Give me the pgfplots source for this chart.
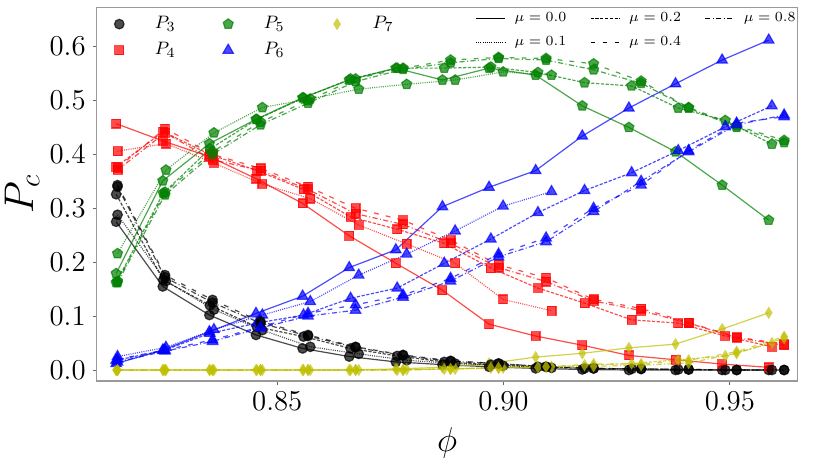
\documentclass[border=0pt]{standalone}
\usepackage{pgfplots}
\pgfplotsset{compat=1.18}
\usepackage{pgfplotstable}
\definecolor{cgreen}{rgb}{0,0.5,0}
\definecolor{cyel}{rgb}{0.75,0.75,0}
\pgfdeclareplotmark{thindiamond}{%
  \pgfpathmoveto{\pgfqpoint{0pt}{\pgfplotmarksize}}%
  \pgfpathlineto{\pgfqpoint{0.62\pgfplotmarksize}{0pt}}%
  \pgfpathlineto{\pgfqpoint{0pt}{-\pgfplotmarksize}}%
  \pgfpathlineto{\pgfqpoint{-0.62\pgfplotmarksize}{0pt}}%
  \pgfpathclose
  \pgfusepathqfill}
\pgfplotsset{
  sP3/.style={color=black, opacity=0.7, mark=*, mark size=2.4pt, mark options={solid,draw=none}},
  sP4/.style={color=red, opacity=0.7, mark=square*, mark size=2.2pt, mark options={solid,draw=none}},
  sP5/.style={color=cgreen, opacity=0.7, mark=pentagon*, mark size=2.6pt, mark options={solid,draw=none}},
  sP6/.style={color=blue, opacity=0.7, mark=triangle*, mark size=3pt, mark options={solid,draw=none}},
  sP7/.style={color=cyel, opacity=0.7, mark=thindiamond, mark size=3.1pt, mark options={solid,draw=none}},
  p7legend/.style={legend image code/.code={\path (-4pt,0pt) (14.5pt,0pt); \draw[##1,/tikz/only marks] plot coordinates {(-1pt,0pt)};}},
  m0/.style={solid},
  m1/.style={dash pattern=on 0.5pt off 0.6pt},
  m2/.style={dash pattern=on 1.6pt off 0.8pt},
  m4/.style={dash pattern=on 2.4pt off 3.6pt},
  m8/.style={dash pattern=on 2.6pt off 1.2pt on 0.5pt off 1.2pt},
}
% columns: phi P3 P4 P5 P6 P7
\pgfplotstableread{
phi P3 P4 P5 P6 P7
0.8144 0.275 0.457 0.179 0.012 0.000
0.8247 0.155 0.425 0.351 0.037 0.000
0.8350 0.102 0.396 0.420 0.071 0.000
0.8453 0.065 0.355 0.465 0.105 0.000
0.8556 0.040 0.309 0.505 0.137 0.000
0.8659 0.025 0.249 0.538 0.190 0.000
0.8762 0.015 0.198 0.560 0.223 0.002
0.8865 0.010 0.148 0.538 0.303 0.005
0.8968 0.006 0.085 0.560 0.339 0.012
0.9071 0.003 0.063 0.547 0.370 0.024
0.9174 0.001 0.046 0.490 0.434 0.031
0.9277 0.000 0.027 0.450 0.486 0.041
0.9380 0.000 0.019 0.405 0.531 0.048
0.9483 0.000 0.011 0.343 0.575 0.076
0.9586 0.000 0.005 0.278 0.612 0.106
}\tA
\pgfplotstableread{
phi P3 P4 P5 P6 P7
0.8147 0.288 0.406 0.216 0.025 0.000
0.8254 0.165 0.420 0.371 0.042 0.000
0.8360 0.112 0.384 0.440 0.075 0.000
0.8467 0.074 0.345 0.487 0.102 0.000
0.8573 0.043 0.318 0.503 0.127 0.000
0.8680 0.030 0.269 0.521 0.176 0.000
0.8786 0.018 0.234 0.530 0.215 0.001
0.8893 0.012 0.198 0.538 0.258 0.002
0.8999 0.008 0.131 0.553 0.304 0.004
0.9106 0.004 0.110 0.547 0.331 0.006
}\tB
\pgfplotstableread{
phi P3 P4 P5 P6 P7
0.8144 0.326 0.377 0.162 0.018 0.000
0.8248 0.167 0.442 0.328 0.036 0.000
0.8351 0.120 0.400 0.410 0.068 0.000
0.8455 0.080 0.370 0.465 0.087 0.000
0.8558 0.062 0.335 0.505 0.102 0.000
0.8662 0.040 0.284 0.540 0.133 0.000
0.8765 0.026 0.261 0.560 0.152 0.000
0.8869 0.015 0.235 0.560 0.198 0.002
0.8972 0.010 0.189 0.562 0.243 0.004
0.9076 0.006 0.152 0.552 0.292 0.005
0.9179 0.003 0.124 0.533 0.333 0.009
0.9283 0.002 0.093 0.527 0.366 0.012
0.9386 0.001 0.087 0.486 0.407 0.019
0.9490 0.000 0.063 0.463 0.451 0.026
0.9593 0.000 0.043 0.419 0.490 0.050
}\tC
\pgfplotstableread{
phi P3 P4 P5 P6 P7
0.8147 0.343 0.375 0.165 0.020 0.000
0.8252 0.176 0.448 0.330 0.037 0.000
0.8357 0.130 0.400 0.405 0.056 0.000
0.8463 0.090 0.374 0.460 0.080 0.000
0.8568 0.065 0.340 0.500 0.105 0.000
0.8673 0.043 0.300 0.540 0.121 0.000
0.8778 0.028 0.278 0.560 0.139 0.000
0.8883 0.017 0.241 0.575 0.170 0.002
0.8989 0.012 0.195 0.580 0.215 0.004
0.9094 0.006 0.171 0.578 0.245 0.006
0.9199 0.003 0.131 0.568 0.300 0.011
0.9304 0.002 0.114 0.536 0.343 0.011
0.9409 0.001 0.088 0.487 0.407 0.018
0.9515 0.000 0.061 0.453 0.458 0.034
0.9620 0.000 0.048 0.426 0.470 0.062
}\tD
\pgfplotstableread{
phi P3 P4 P5 P6 P7
0.8147 0.340 0.371 0.162 0.015 0.000
0.8252 0.172 0.440 0.325 0.035 0.000
0.8357 0.125 0.390 0.400 0.053 0.000
0.8463 0.087 0.370 0.455 0.078 0.000
0.8568 0.063 0.335 0.495 0.100 0.000
0.8673 0.042 0.290 0.535 0.111 0.000
0.8778 0.027 0.270 0.558 0.135 0.000
0.8883 0.016 0.235 0.570 0.165 0.002
0.8989 0.012 0.190 0.578 0.210 0.004
0.9094 0.006 0.164 0.575 0.238 0.006
0.9199 0.003 0.128 0.557 0.294 0.007
0.9304 0.002 0.110 0.532 0.350 0.009
0.9409 0.001 0.087 0.486 0.405 0.013
0.9515 0.000 0.060 0.450 0.455 0.031
0.9620 0.000 0.046 0.422 0.473 0.059
}\tE
\newcommand{\lA}[1]{\makebox[31.35pt][l]{#1}}
\newcommand{\lB}[1]{\makebox[35.7pt][l]{#1}}
\begin{document}
\begin{tikzpicture}
\begin{axis}[name=ax, scale only axis, width=350.5pt, height=186.75pt,
  xmin=0.8101, xmax=0.9650, ymin=-0.0204, ymax=0.6725,
  axis line style={black!40, line width=0.6pt},
  tick align=outside, xtick pos=left, ytick pos=left,
  major tick length=2pt, tick style={black!60, line width=0.5pt},
  xtick={0.85,0.90,0.95}, xticklabels={$0.85$,$0.90$,$0.95$},
  ytick={0,0.1,0.2,0.3,0.4,0.5,0.6},
  yticklabels={$0.0$,$0.1$,$0.2$,$0.3$,$0.4$,$0.5$,$0.6$},
  ticklabel style={font=\fontsize{14.4}{16}\selectfont},
  xlabel={$\phi$}, ylabel={$P_c$},
  xlabel style={at={(axis description cs:0.5,-0.166)}, anchor=center, font=\fontsize{18}{20}\selectfont},
  ylabel style={at={(axis description cs:-0.1066,0.5)}, anchor=center, font=\fontsize{20.74}{24}\selectfont},
  every axis plot/.append style={line width=0.6pt},
  legend columns=3, legend cell align=left,
  legend style={at={(axis description cs:0.02225,0.9878)}, anchor=north west, draw=none, fill=none, inner sep=0pt,
    font=\fontsize{9.5}{11}\selectfont, row sep=1.42pt, column sep=0pt,
    nodes={inner sep=2pt, text depth=0.15em}},
  legend image code/.code={\path (0pt,0pt) (18.5pt,0pt); \draw[#1,/tikz/only marks] plot coordinates {(3pt,0pt)};},
]
\addlegendimage{sP3}\addlegendentry{\lA{$P_3$}}
\addlegendimage{sP5}\addlegendentry{\lA{$P_5$}}
\addlegendimage{sP7,p7legend}\addlegendentry{\lA{$P_7$}}
\addlegendimage{sP4}\addlegendentry{\lA{$P_4$}}
\addlegendimage{sP6}\addlegendentry{\lA{$P_6$}}
% mu = 0.0
\addplot[sP3,m0,forget plot] table[x=phi,y=P3]{\tA};
\addplot[sP4,m0,forget plot] table[x=phi,y=P4]{\tA};
\addplot[sP5,m0,forget plot] table[x=phi,y=P5]{\tA};
\addplot[sP6,m0,forget plot] table[x=phi,y=P6]{\tA};
\addplot[sP7,m0,forget plot] table[x=phi,y=P7]{\tA};
% mu = 0.1
\addplot[sP3,m1,forget plot] table[x=phi,y=P3]{\tB};
\addplot[sP4,m1,forget plot] table[x=phi,y=P4]{\tB};
\addplot[sP5,m1,forget plot] table[x=phi,y=P5]{\tB};
\addplot[sP6,m1,forget plot] table[x=phi,y=P6]{\tB};
\addplot[sP7,m1,forget plot] table[x=phi,y=P7]{\tB};
% mu = 0.2
\addplot[sP3,m2,forget plot] table[x=phi,y=P3]{\tC};
\addplot[sP4,m2,forget plot] table[x=phi,y=P4]{\tC};
\addplot[sP5,m2,forget plot] table[x=phi,y=P5]{\tC};
\addplot[sP6,m2,forget plot] table[x=phi,y=P6]{\tC};
\addplot[sP7,m2,forget plot] table[x=phi,y=P7]{\tC};
% mu = 0.4
\addplot[sP3,m4,forget plot] table[x=phi,y=P3]{\tD};
\addplot[sP4,m4,forget plot] table[x=phi,y=P4]{\tD};
\addplot[sP5,m4,forget plot] table[x=phi,y=P5]{\tD};
\addplot[sP6,m4,forget plot] table[x=phi,y=P6]{\tD};
\addplot[sP7,m4,forget plot] table[x=phi,y=P7]{\tD};
% mu = 0.8
\addplot[sP3,m8,forget plot] table[x=phi,y=P3]{\tE};
\addplot[sP4,m8,forget plot] table[x=phi,y=P4]{\tE};
\addplot[sP5,m8,forget plot] table[x=phi,y=P5]{\tE};
\addplot[sP6,m8,forget plot] table[x=phi,y=P6]{\tE};
\addplot[sP7,m8,forget plot] table[x=phi,y=P7]{\tE};
\end{axis}
\begin{axis}[at={(ax.south west)}, anchor=south west, scale only axis, width=350.5pt, height=186.75pt,
  hide axis, xmin=0, xmax=1, ymin=0, ymax=1,
  legend columns=3, legend cell align=left,
  legend style={at={(axis description cs:0.5397,0.9975)}, anchor=north west, draw=none, fill=none, inner sep=0pt,
    font=\fontsize{7}{8}\selectfont, row sep=1.8pt, column sep=0pt,
    nodes={inner sep=2pt, text depth=0.15em},
    /tikz/every odd column/.append style={column sep=2.5pt}},
  legend image code/.code={\draw[#1] (0pt,0pt) -- (14.5pt,0pt);},
]
\addlegendimage{black, line width=0.6pt, m0}\addlegendentry{\lB{$\mu=0.0$}}
\addlegendimage{black, line width=0.6pt, m2}\addlegendentry{\lB{$\mu=0.2$}}
\addlegendimage{black, line width=0.6pt, m8}\addlegendentry{\lB{$\mu=0.8$}}
\addlegendimage{black, line width=0.6pt, m1}\addlegendentry{\lB{$\mu=0.1$}}
\addlegendimage{black, line width=0.6pt, m4}\addlegendentry{\lB{$\mu=0.4$}}
\end{axis}
\pgfresetboundingbox
\path[use as bounding box] ([xshift=-48.35pt,yshift=-45pt]ax.south west) rectangle ([xshift=16.15pt,yshift=3.75pt]ax.north east);
\end{tikzpicture}
\end{document}
